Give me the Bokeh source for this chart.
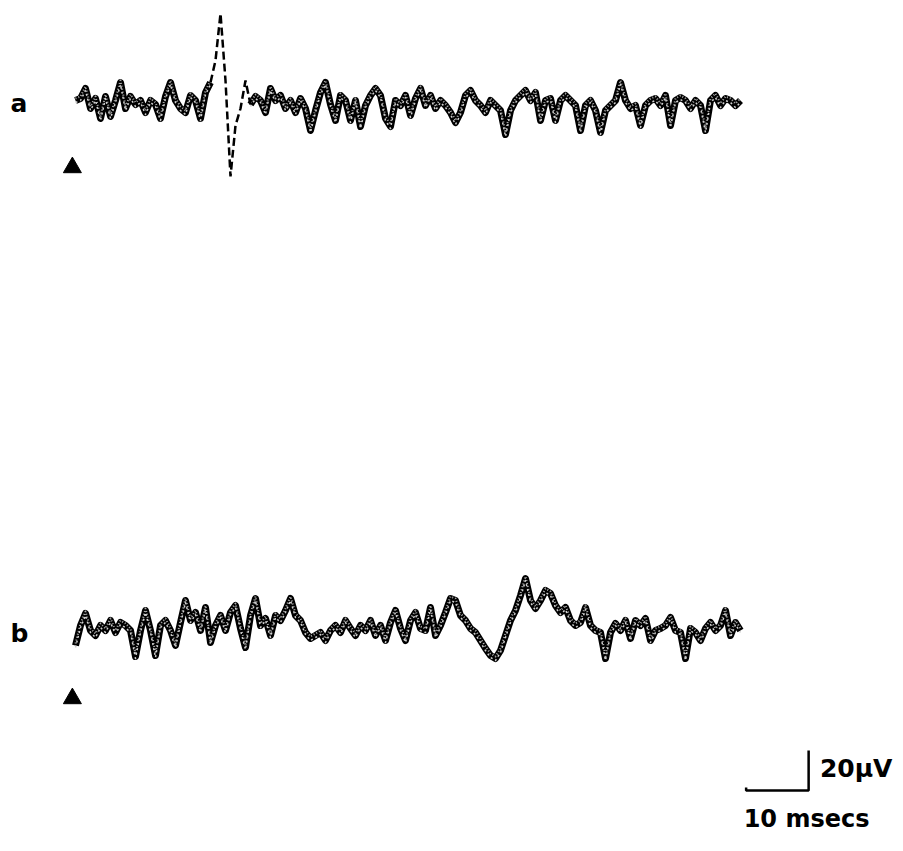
import numpy as np
from bokeh.plotting import figure
from bokeh.models import Range1d
from bokeh.core.properties import value
from bokeh.embed import file_html
from bokeh.resources import INLINE

# sample interval (ms)
dt_ms = 0.8

# trace a amplitudes (µV), one value per sample
trace_a = [1.5, 2.5, 7.5, -2.5, 2.5, -7.5, 3.5, -6.5, 1.5, 10.5,
           -2.5, 3.5, -0.5, 1.5, -4.5, 1.5, -0.5, -7.5, 3.5, 10.5,
           1.5, -2.5, -4.5, 4, 1.5, -7.5, 5.5, 10.5, 21.5, 45,
           11.5, -36.5, -11, -2.5, 11.5, -0.5, 3.5, 1.5, -4.5, 7.5,
           1.5, 4, -2.5, 1.5, -4.5, 2.5, -2.5, -13.5, -3.5, 5.5,
           10.5, -0.5, -8.5, 4, 1.5, -8.5, 1.5, -11.5, -1, 4,
           7.5, 4, -7.5, -11.5, 1.5, -1, 4, -6, 2.5, 7.5,
           -1, 4, -2.5, 1.5, -1, -4.5, -9.5, -4.5, 4, 6.5,
           1.5, -1, -4.5, 1.5, -1, -3.5, -15.5, -3.5, 1.5, 4,
           6.5, 1.5, 5.5, -8.5, 1.5, 2.5, -8.5, 1.5, 4, 1.5,
           -1, -13.5, -1, 1.5, -3.5, -14.5, -3.5, -1, 1.5, 10.5,
           1.5, -2.5, -1, -11, -1, 1.5, 2.5, -1, 4, -11,
           1.5, 3, 1.5, -2.5, 1.5, -1, -13.5, 1.5, 4, -1,
           2.5, 1.5, -1, 1.5]

# trace b amplitudes (µV)
trace_b = [-7.5, 2.5, 8.5, 0, -2.5, 2.5, 0, 5, -1, 4,
           2.5, 0, -13, 0, 10, 0, -12.5, 2.5, 5, 0,
           -7.5, 4, 15, 5, 9, 0, 11.5, -6, 2.5, 7.5,
           0, 9, 12.5, 1, -8.5, 7.5, 16, 2.5, 6, -2.5,
           7.5, 5, 10, 16, 7.5, 5, -1, -4, -2.5, -1,
           -5, 0, 2.5, -1, 5, 1, -2.5, 2.5, 0, 5,
           -2.5, 2.5, -5, 4, 10, 1, -5, 5, 9, 1,
           0, 11.5, -2.5, 2.5, 9, 16, 15, 7.5, 5, 1,
           -1, -5, -9, -12.5, -14, -10, -2.5, 5, 10, 17.5,
           26, 15, 11, 15, 20, 18.5, 12.5, 9, 11.5, 5,
           2.5, 4, 11.5, 2.5, 0, -1, -14, -1, 3.5, 0,
           5, -4, 5, 2.5, 6, -5, 0, 1, 2.5, 6.5,
           0, -1, -14, 1, -1, -5, 1, 4, 0, 2.5,
           10, -2.5, 4, 0]

labels = ["a", "b"]
scale_uv = 20
scale_ms = 10

# layout (ms / µV on the page)
off_a, off_b = 370, 106.5
spike_from, spike_to = 27, 35

t_a = np.arange(len(trace_a)) * dt_ms
t_b = np.arange(len(trace_b)) * dt_ms
ya = np.array(trace_a) + off_a
yb = np.array(trace_b) + off_b

W, H = 895, 843
px_per_ms = 6.25
px_per_uv = 2.0
x0 = -75 / px_per_ms
p = figure(width=W, height=H, output_backend="svg", toolbar_location=None,
           x_range=Range1d(x0, x0 + W / px_per_ms), y_range=Range1d(0, H / px_per_uv),
           min_border=0)
p.axis.visible = False
p.grid.visible = False
p.outline_line_color = None
p.background_fill_color = "white"

def draw_trace(t, y, solid_idx, dashed=None):
    for a, b in solid_idx:
        p.line(t[a:b], y[a:b], line_color="black", line_width=7, line_join="round")
        p.line(t[a:b], y[a:b] + 1.0, line_color="#b0b0b0", line_width=2,
               line_dash="1 2", line_join="round")
        p.line(t[a:b], y[a:b] - 1.0, line_color="#d0d0d0", line_width=1.5,
               line_dash="2 3", line_join="round")
    if dashed is not None:
        a, b = dashed
        p.line(t[a:b], y[a:b], line_color="black", line_width=2.5, line_dash="8 4")

draw_trace(t_a, ya, [(0, spike_from + 1), (spike_to, len(t_a))], (spike_from, spike_to + 1))
draw_trace(t_b, yb, [(0, len(t_b))])

font = value("DejaVu Sans")

# labels
p.text(x=[x0 + 10 / px_per_ms] * 2, y=[off_a, off_b - 1.5], text=labels,
       text_font=font, text_font_style="bold", text_font_size="25px",
       text_baseline="middle", text_align="left", text_color="black")

# stimulus markers
p.scatter(x=[-0.5, -0.5], y=[off_a - 32, off_b - 34], marker="triangle",
          size=18, color="black")

# scale bar
xb = 117.3
yb0 = 26.5
p.line([xb - scale_ms, xb - scale_ms, xb, xb], [yb0 + 1.5, yb0, yb0, yb0 + scale_uv],
       line_color="black", line_width=2.5)
p.text(x=[xb + 1.8], y=[yb0 + scale_uv / 2 + 1], text=[f"{scale_uv}µV"],
       text_font=font, text_font_style="bold", text_font_size="25px",
       text_baseline="middle", text_align="left", text_color="black")
p.text(x=[xb - scale_ms - 0.4], y=[yb0 - 14], text=[f"{scale_ms} msecs"],
       text_font=font, text_font_style="bold", text_font_size="24px",
       text_baseline="middle", text_align="left", text_color="black")

open("out.html", "w").write(file_html(p, INLINE))
